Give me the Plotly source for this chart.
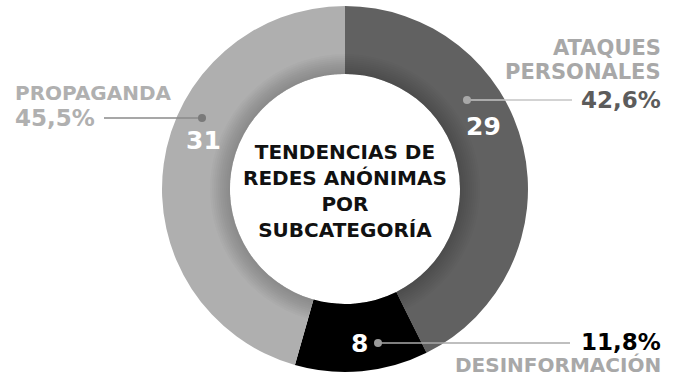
import plotly.graph_objects as go

# Subcategorías de redes anónimas
categorias = ["ATAQUES<br>PERSONALES", "DESINFORMACIÓN", "PROPAGANDA"]
valores = [29, 8, 31]
porcentajes = ["42,6%", "11,8%", "45,5%"]
colores = ["#616161", "#000000", "#afafaf"]
titulo = "TENDENCIAS DE<br>REDES ANÓNIMAS<br>POR<br>SUBCATEGORÍA"

W, H = 680, 379
CX, CY, R, RH = 345, 189, 183, 115  # centro y radios del anillo (px)
FONT = "DejaVu Sans"


def px(x, y):
    return x / W, 1 - y / H


def dom(rad):
    return dict(x=[(CX - rad) / W, (CX + rad) / W],
                y=[1 - (CY + rad) / H, 1 - (CY - rad) / H])


fig = go.Figure()
fig.add_trace(go.Pie(
    values=valores, labels=categorias, marker=dict(colors=colores, line=dict(width=0)),
    hole=RH / R, sort=False, direction="clockwise", rotation=0,
    textinfo="none", hoverinfo="label+value", domain=dom(R), showlegend=False,
))

# sombreado suave en el borde interior del anillo
for k in range(10):
    rad = RH + 2 + k * 2
    fig.add_trace(go.Pie(
        values=valores, marker=dict(colors=["rgba(0,0,0,0.018)"] * 3, line=dict(width=0)),
        hole=RH / rad, sort=False, direction="clockwise", rotation=0,
        textinfo="none", hoverinfo="skip", domain=dom(rad), showlegend=False,
    ))

ann = []


def txt(x, y, s, size, color, anchor="center"):
    ax, ay = px(x, y)
    ann.append(dict(x=ax, y=ay, xref="paper", yref="paper", text=f"<b>{s}</b>",
                    showarrow=False, xanchor=anchor, yanchor="middle",
                    font=dict(family=FONT, size=size, color=color)))


# título central
ax, ay = px(CX, 191)
ann.append(dict(x=ax, y=ay, xref="paper", yref="paper", text=f"<b>{titulo}</b>",
                showarrow=False, xanchor="center", yanchor="middle",
                font=dict(family=FONT, size=20, color="#111111")))

# números dentro del anillo
txt(483, 127, str(valores[0]), 25, "white")
txt(359, 343, str(valores[1]), 25, "white")
txt(203, 140, str(valores[2]), 25, "white")

# rótulos externos
txt(663, 48, "ATAQUES", 21, "#a8a8a8", "right")
txt(663, 72, "PERSONALES", 21, "#a8a8a8", "right")
txt(663, 100, porcentajes[0], 23, "#5c5c5c", "right")
txt(663, 342, porcentajes[1], 23, "#000000", "right")
txt(663, 365, "DESINFORMACIÓN", 20, "#a8a8a8", "right")
txt(13, 93, "PROPAGANDA", 20, "#b0b0b0", "left")
txt(13, 118, porcentajes[2], 23, "#b0b0b0", "left")

shapes = []


def leader(x0, x1, y, dotx, color, dotcolor):
    a0, b = px(x0, y)
    a1, _ = px(x1, y)
    shapes.append(dict(type="line", xref="paper", yref="paper", x0=a0, x1=a1, y0=b, y1=b,
                       line=dict(color=color, width=1.5)))
    d0, d1 = px(dotx - 4, y - 4), px(dotx + 4, y + 4)
    shapes.append(dict(type="circle", xref="paper", yref="paper", x0=d0[0], x1=d1[0],
                       y0=d1[1], y1=d0[1], fillcolor=dotcolor, line=dict(width=0)))


leader(467, 572, 100, 467, "#c4c4c4", "#a8a8a8")
leader(378, 570, 343, 378, "#aaaaaa", "#9a9a9a")
leader(104, 202, 118, 202, "#8a8a8a", "#7a7a7a")

fig.update_layout(width=W, height=H, margin=dict(l=0, r=0, t=0, b=0),
                  paper_bgcolor="white", plot_bgcolor="white",
                  annotations=ann, shapes=shapes)
fig.write_html("out.html")
